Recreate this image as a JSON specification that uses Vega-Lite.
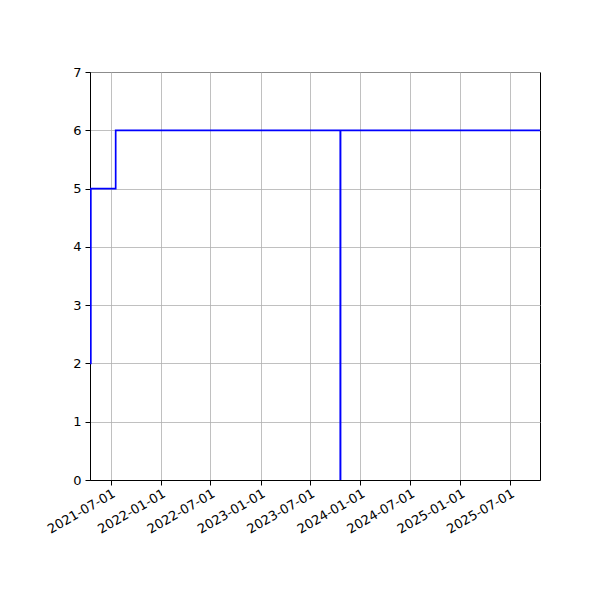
{
  "$schema": "https://vega.github.io/schema/vega-lite/v6.json",
  "width": 450,
  "height": 408,
  "autosize": {"type": "none"},
  "padding": {"left": 90, "top": 72, "right": 60, "bottom": 120},
  "background": "white",
  "data": {
    "values": [
      {"date": "2021-04-16", "value": 2},
      {"date": "2021-04-19", "value": 5},
      {"date": "2021-07-19", "value": 6},
      {"date": "2023-10-19", "value": 0},
      {"date": "2023-10-20", "value": 6},
      {"date": "2025-10-30", "value": 6}
    ]
  },
  "mark": {
    "type": "line",
    "interpolate": "step-after",
    "color": "#0000ff",
    "strokeWidth": 1.7,
    "clip": true
  },
  "encoding": {
    "x": {
      "field": "date",
      "type": "temporal",
      "scale": {
        "type": "utc",
        "domain": [
          {"year": 2021, "month": 4, "date": 16, "utc": true},
          {"year": 2025, "month": 10, "date": 19, "utc": true}
        ]
      },
      "axis": {
        "title": null,
        "format": "%Y-%m-%d",
        "values": [
          {"year": 2021, "month": 7, "date": 1, "utc": true},
          {"year": 2022, "month": 1, "date": 1, "utc": true},
          {"year": 2022, "month": 7, "date": 1, "utc": true},
          {"year": 2023, "month": 1, "date": 1, "utc": true},
          {"year": 2023, "month": 7, "date": 1, "utc": true},
          {"year": 2024, "month": 1, "date": 1, "utc": true},
          {"year": 2024, "month": 7, "date": 1, "utc": true},
          {"year": 2025, "month": 1, "date": 1, "utc": true},
          {"year": 2025, "month": 7, "date": 1, "utc": true}
        ],
        "labelAngle": -30,
        "labelAlign": "right",
        "labelBaseline": "top",
        "labelPadding": 2,
        "labelFlush": false,
        "labelOverlap": false
      }
    },
    "y": {
      "field": "value",
      "type": "quantitative",
      "scale": {"domain": [0, 7], "nice": false, "zero": false},
      "axis": {
        "title": null,
        "values": [0, 1, 2, 3, 4, 5, 6, 7],
        "labelPadding": 4
      }
    }
  },
  "config": {
    "view": {"stroke": "black", "strokeWidth": 1},
    "axis": {
      "grid": true,
      "gridColor": "#b0b0b0",
      "gridOpacity": 1,
      "gridWidth": 0.8,
      "domainColor": "black",
      "domainWidth": 1,
      "tickColor": "black",
      "tickSize": 5,
      "tickWidth": 1,
      "labelFont": "DejaVu Sans",
      "labelFontSize": 13,
      "labelColor": "black"
    }
  }
}
